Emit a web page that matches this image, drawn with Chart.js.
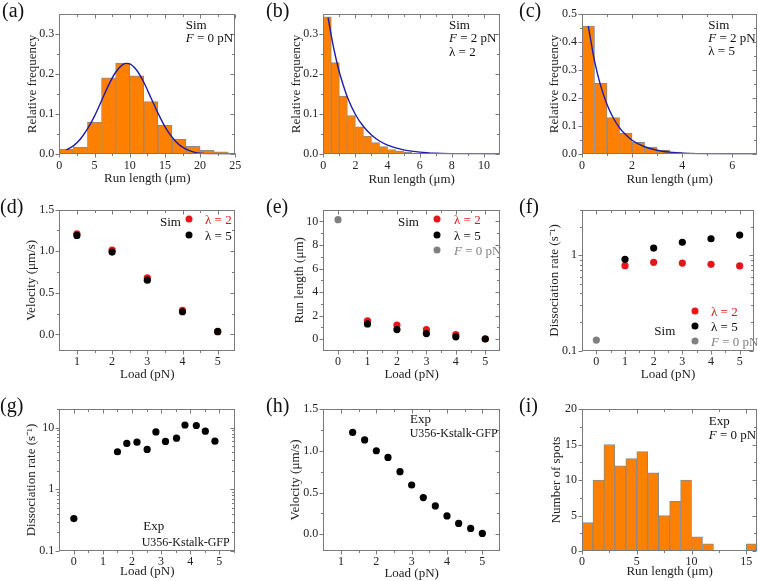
<!DOCTYPE html>
<html><head><meta charset="utf-8">
<script src="https://cdn.jsdelivr.net/npm/chart.js@4"></script>
<style>
body{margin:0;background:#fff;}
#fig{position:relative;width:758px;height:581px;overflow:hidden;background:#fff;font-family:'Liberation Serif','Times New Roman',serif;color:#111;}
.cell{position:absolute;}
.cell canvas{display:block;}
.lbl{position:absolute;font-size:20px;line-height:20px;white-space:nowrap;}
.ann{position:absolute;font-size:13px;line-height:13px;white-space:nowrap;transform:translateY(-50%);}
.ann.sm{font-size:12px;}
.dot{position:absolute;width:7px;height:7px;border-radius:50%;transform:translate(-50%,-50%);}
</style></head><body><div id="fig"></div>
<script>
// ---------- DATA ----------
// (a) Sim, F = 0 pN
const binsA = [1,3,5,7,9,11,13,15,17,19,21,23,25];
const freqA = [0.013,0.018,0.080,0.190,0.227,0.195,0.131,0.072,0.038,0.020,0.010,0.006,0.003];
const fitAx = [1,2,3,4,5,6,7,8,9,9.6,10,11,12,13,14,15,16,17,18,19,20,21,22,23,25];
const fitAy = [0.011,0.021,0.038,0.063,0.095,0.133,0.172,0.204,0.223,0.226,0.225,0.209,0.179,0.141,0.103,0.069,0.043,0.024,0.013,0.006,0.0027,0.0011,0.0004,0.0001,0];
// (b) Sim, F = 2 pN, λ = 2
const binsB = [0.25,0.75,1.25,1.75,2.25,2.75,3.25,3.75,4.25,4.75,5.25,5.75,6.25,6.75,7.25,7.75,8.25,8.75,9.25,9.75,10.25,10.75];
const freqB = [0.342,0.228,0.145,0.096,0.068,0.045,0.029,0.019,0.012,0.008,0.005,0.003,0.002,0.0015,0.001,0.0007,0.0005,0.0003,0.0002,0.0001,0.0001,0.0001];
const fitBx = [0.3,0.5,0.75,1,1.25,1.5,2,2.5,3,3.5,4,5,6,7,8,9,10,11];
const fitBy = [0.340,0.294,0.245,0.204,0.171,0.142,0.099,0.069,0.048,0.033,0.023,0.011,0.0055,0.0026,0.0013,0.0006,0.0003,0.00015];
// (c) Sim, F = 2 pN, λ = 5
const binsC = [0.25,0.75,1.25,1.75,2.25,2.75,3.25,3.75,4.25,4.75,5.25,5.75,6.25,6.75];
const freqC = [0.455,0.252,0.130,0.0745,0.0426,0.026,0.015,0.008,0.005,0.003,0.002,0.001,0.0005,0.0003];
const fitCx = [0.25,0.5,0.75,1,1.25,1.5,1.75,2,2.5,3,3.5,4,5,6,7];
const fitCy = [0.455,0.332,0.242,0.177,0.129,0.094,0.069,0.050,0.0268,0.0142,0.0076,0.0040,0.0011,0.0003,0.0001];
// (d) velocity vs load
const loadD = [1,2,3,4,5];
const velL2 = [1.21,1.015,0.68,0.288,0.03];
const velL5 = [1.19,0.99,0.652,0.272,0.035];
// (e) run length vs load
const loadE = [1,2,3,4,5];
const runL2 = [1.55,1.21,0.82,0.40,0.03];
const runL5 = [1.30,0.82,0.48,0.20,0.02];
const loadE0 = [0];
const runF0 = [10.15];
// (f) dissociation rate vs load
const loadF = [1,2,3,4,5];
const rateL2 = [0.78,0.845,0.83,0.805,0.775];
const rateL5 = [0.908,1.19,1.37,1.49,1.63];
const loadF0 = [0];
const rateF0 = [0.13];
// (g) Exp dissociation rate
const loadG = [0,1.5,1.82,2.17,2.52,2.82,3.15,3.53,3.82,4.21,4.52,4.85];
const rateG = [0.335,4.06,5.53,5.81,4.43,8.51,5.96,6.74,11.0,10.8,8.73,6.03];
// (h) Exp velocity
const loadH = [1.33,1.67,2.0,2.33,2.67,3.0,3.33,3.67,4.0,4.33,4.67,5.0];
const velH = [1.22,1.13,1.0,0.92,0.75,0.59,0.44,0.34,0.22,0.13,0.07,0.01];
// (i) Exp histogram
const binsI = [0.5,1.5,2.5,3.5,4.5,5.5,6.5,7.5,8.5,9.5,10.5,11.5,12.5,13.5,14.5,15.5];
const countI = [4,10,15,12,13,14,11,5,7,10,2,1,0,0,0,1];
// tick values
const ticksAx = [0,5,10,15,20,25];
const ticksAy = [0,0.1,0.2,0.3];
const ticksBx = [0,2,4,6,8,10];
const ticksBy = [0,0.1,0.2,0.3];
const ticksCx = [0,2,4,6];
const ticksCy = [0,0.1,0.2,0.3,0.4,0.5];
const ticksLoad15 = [1,2,3,4,5];
const ticksLoad05 = [0,1,2,3,4,5];
const ticksVel = [0,0.5,1.0,1.5];
const ticksRun = [0,2,4,6,8,10];
const ticksRateF = [0.1,1];
const ticksRateG = [0.1,1,10];
const ticksIx = [0,5,10,15];
const ticksIy = [0,5,10,15,20];

// ---------- STYLE ----------
const FONT = "'Liberation Serif','Times New Roman',serif";
const ORANGE = '#ff8000', BAR_EDGE = '#8a8a8a', BLUE = '#1c1ca8';
const RED = '#e8141a', BLACK = '#000000', GRAY = '#808080', AXIS = '#7a7a7a';
const f1 = v => Number(v).toFixed(1);
const f0 = v => String(v);
const flog = v => (v < 1 ? Number(v).toFixed(1) : String(Math.round(v)));
const zip = (xs, ys) => xs.map((x, i) => ({x, y: ys[i]}));

const framePlugin = {
  id: 'frame',
  afterDraw(chart) {
    const {ctx, chartArea: a} = chart;
    const sx = chart.scales.x, sy = chart.scales.y;
    const L = Math.round(a.left) + 0.5, R = Math.round(a.right) - 0.5;
    const T = Math.round(a.top) + 0.5, B = Math.round(a.bottom) - 0.5;
    ctx.save();
    ctx.strokeStyle = AXIS; ctx.lineWidth = 1;
    ctx.strokeRect(L, T, R - L, B - T);
    const sets = (s) => {
      const maj = s.ticks.map(t => t.value);
      const min = [];
      if (s.type === 'logarithmic') {
        let d = Math.pow(10, Math.floor(Math.log10(s.min)));
        while (d <= s.max) {
          for (let k = 2; k <= 9; k++) { const v = k * d; if (v > s.min && v <= s.max + 1e-9) min.push(v); }
          d *= 10;
        }
      } else {
        const st = maj[1] - maj[0];
        for (let i = -1; i < maj.length; i++) {
          const v = (i < 0 ? maj[0] - st / 2 : maj[i] + st / 2);
          if (v > s.min + 1e-9 && v < s.max - 1e-9) min.push(v);
        }
      }
      return {maj, min};
    };
    const X = sets(sx), Y = sets(sy);
    ctx.beginPath();
    const xt = (vals, len) => vals.forEach(v => {
      const px = Math.round(sx.getPixelForValue(v)) + 0.5;
      ctx.moveTo(px, B); ctx.lineTo(px, B + len);
      ctx.moveTo(px, T); ctx.lineTo(px, T + len);
    });
    const yt = (vals, len) => vals.forEach(v => {
      const py = Math.round(sy.getPixelForValue(v)) + 0.5;
      ctx.moveTo(L, py); ctx.lineTo(L - len, py);
      ctx.moveTo(R, py); ctx.lineTo(R - len, py);
    });
    xt(X.maj, 4); xt(X.min, 2.5); yt(Y.maj, 4); yt(Y.min, 2.5);
    ctx.stroke();
    ctx.restore();
  }
};

function axis(o, isX, p) {
  return {
    type: o.type || 'linear',
    min: o.min, max: o.max, offset: false,
    grid: {display: false, drawTicks: false, tickLength: 0},
    border: {display: false},
    afterBuildTicks: s => { s.ticks = o.ticks.map(v => ({value: v})); },
    afterFit: s => { if (isX) s.height = p.h - p.B; else s.width = p.L; },
    ticks: {autoSkip: false, maxRotation: 0, minRotation: 0, padding: isX ? 4 : 5,
      color: '#222', font: {family: FONT, size: 12}, callback: o.fmt},
    title: {display: true, text: o.title, color: '#222', font: {family: FONT, size: 13},
      padding: isX ? {top: 0, bottom: p.xd - 7.8} : {top: p.yc - 7.8, bottom: 0}}
  };
}

function build(p, type, datasets, xo, yo) {
  const cell = document.createElement('div');
  cell.className = 'cell';
  cell.style.left = p.x + 'px'; cell.style.top = p.y + 'px';
  const cv = document.createElement('canvas');
  cv.width = p.w; cv.height = p.h;
  cv.style.width = p.w + 'px'; cv.style.height = p.h + 'px';
  cell.appendChild(cv);
  document.getElementById('fig').appendChild(cell);
  new Chart(cv, {
    type, data: {datasets},
    options: {
      responsive: false, animation: false, devicePixelRatio: 1,
      layout: {padding: {left: 0, top: p.T, right: p.w - p.R, bottom: 0}},
      plugins: {legend: {display: false}, tooltip: {enabled: false}},
      scales: {x: axis(xo, true, p), y: axis(yo, false, p)}
    },
    plugins: [framePlugin]
  });
}

function hist(p, bins, vals, fx, fy, xo, yo) {
  const ds = [];
  if (fx) ds.push({type: 'line', data: zip(fx, fy), borderColor: BLUE, borderWidth: 1.4,
    pointRadius: 0, cubicInterpolationMode: 'monotone', fill: false, order: 0});
  ds.push({type: 'bar', data: zip(bins, vals), backgroundColor: ORANGE, borderColor: BAR_EDGE,
    borderWidth: 1, barPercentage: 1, categoryPercentage: 1, order: 1});
  build(p, 'bar', ds, xo, yo);
}
function pts(xs, ys, color, order) {
  return {data: zip(xs, ys), pointRadius: 3.6, pointBackgroundColor: color, pointBorderWidth: 0,
    borderColor: color, showLine: false, order};
}

// ---------- LAYOUT ----------
const C0 = {x: 0, w: 253, L: 59.3, R: 235.3}, C1 = {x: 253, w: 253, L: 70.3, R: 247}, C2 = {x: 506, w: 252, L: 76, R: 251.3};
const R0 = {y: 0, h: 195, T: 13.5, B: 154.3}, R1 = {y: 195, h: 195, T: 14.7, B: 156}, R2 = {y: 390, h: 191, T: 19, B: 161};
const P = (c, r, yc, xd) => Object.assign({}, c, r, {yc, xd});

const RL = 'Run length (μm)', RF = 'Relative frequency', LD = 'Load (pN)', VL = 'Velocity (μm/s)', DR = 'Dissociation rate (s⁻¹)';

hist(P(C0, R0, 32.3, 16), binsA, freqA, fitAx, fitAy,
  {min: 0, max: 25, ticks: ticksAx, fmt: f0, title: RL},
  {min: 0, max: 0.35, ticks: ticksAy, fmt: f1, title: RF});
hist(P(C1, R0, 43.7, 15), binsB, freqB, fitBx, fitBy,
  {min: 0, max: 11, ticks: ticksBx, fmt: f0, title: RL},
  {min: 0, max: 0.35, ticks: ticksBy, fmt: f1, title: RF});
hist(P(C2, R0, 48.7, 15), binsC, freqC, fitCx, fitCy,
  {min: 0, max: 7, ticks: ticksCx, fmt: f0, title: RL},
  {min: 0, max: 0.5, ticks: ticksCy, fmt: f1, title: RF});

build(P(C0, R1, 31.7, 15), 'scatter', [pts(loadD, velL5, BLACK, 0), pts(loadD, velL2, RED, 1)],
  {min: 0.5, max: 5.5, ticks: ticksLoad15, fmt: f0, title: LD},
  {min: -0.2, max: 1.5, ticks: ticksVel, fmt: f1, title: VL});
build(P(C1, R1, 46.3, 15), 'scatter', [pts(loadE, runL5, BLACK, 0), pts(loadE, runL2, RED, 1), pts(loadE0, runF0, GRAY, 2)],
  {min: -0.5, max: 5.5, ticks: ticksLoad05, fmt: f0, title: LD},
  {min: -1, max: 11, ticks: ticksRun, fmt: f0, title: RL});
build(P(C2, R1, 48.3, 15), 'scatter', [pts(loadF, rateL5, BLACK, 0), pts(loadF, rateL2, RED, 1), pts(loadF0, rateF0, GRAY, 2)],
  {min: -0.5, max: 5.5, ticks: ticksLoad05, fmt: f0, title: LD},
  {type: 'logarithmic', min: 0.1, max: 3, ticks: ticksRateF, fmt: flog, title: DR});

build(P(C0, R2, 32, 9.3), 'scatter', [pts(loadG, rateG, BLACK, 0)],
  {min: -0.5, max: 5.55, ticks: ticksLoad05, fmt: f0, title: LD},
  {type: 'logarithmic', min: 0.1, max: 20, ticks: ticksRateG, fmt: flog, title: DR});
build(P(C1, R2, 42.3, 7.7), 'scatter', [pts(loadH, velH, BLACK, 0)],
  {min: 0.5, max: 5.5, ticks: ticksLoad15, fmt: f0, title: LD},
  {min: -0.2, max: 1.5, ticks: ticksVel, fmt: f1, title: VL});
hist(P(C2, R2, 50.7, 9.3), binsI, countI, null, null,
  {min: 0, max: 16, ticks: ticksIx, fmt: f0, title: RL},
  {min: 0, max: 20, ticks: ticksIy, fmt: f0, title: 'Number of spots'});

// ---------- TEXT ----------
const fig = document.getElementById('fig');
const labels = [['(a)', 2, 0], ['(b)', 266, 0], ['(c)', 519, 0], ['(d)', 0, 196], ['(e)', 266, 196], ['(f)', 519, 196], ['(g)', 0, 395], ['(h)', 266, 395], ['(i)', 519, 395]];
labels.forEach(([t, x, y]) => { const d = document.createElement('div'); d.className = 'lbl'; d.textContent = t; d.style.left = x + 'px'; d.style.top = y + 'px'; fig.appendChild(d); });
const F0 = '<i>F</i> = 0 pN', F2 = '<i>F</i> = 2 pN';
const anns = [
  [185.7, 24.3, 'Sim'], [185.7, 37.3, F0],
  [449, 24, 'Sim'], [449, 37.3, F2], [449, 50.7, 'λ = 2'],
  [708.3, 24, 'Sim'], [708.3, 37, F2], [708.3, 50, 'λ = 5'],
  [160, 221, 'Sim'], [205, 219, 'λ = 2', RED], [205, 235, 'λ = 5'],
  [398, 221, 'Sim'], [454, 219, 'λ = 2', RED], [454, 235, 'λ = 5'], [454, 250, F0, GRAY],
  [711, 310.7, 'λ = 2', RED], [711, 325.7, 'λ = 5'], [654.3, 330, 'Sim'], [711, 341, F0, GRAY],
  [143.3, 525, 'Exp'], [141.7, 541.7, 'U356-Kstalk-GFP', null, 1],
  [410, 418.3, 'Exp'], [409.7, 432.7, 'U356-Kstalk-GFP', null, 1],
  [708.7, 420, 'Exp'], [708.7, 434.3, F0]
];
anns.forEach(([x, y, h, c, sm]) => { const d = document.createElement('div'); d.className = sm ? 'ann sm' : 'ann'; d.innerHTML = h; d.style.left = x + 'px'; d.style.top = y + 'px'; if (c) d.style.color = c; fig.appendChild(d); });
const dots = [[189, 219, RED], [189, 235, BLACK], [437.3, 219, RED], [437.3, 235, BLACK], [437.3, 250, GRAY], [695, 310.7, RED], [695, 325.7, BLACK], [695, 341, GRAY]];
dots.forEach(([x, y, c]) => { const d = document.createElement('div'); d.className = 'dot'; d.style.left = x + 'px'; d.style.top = y + 'px'; d.style.background = c; fig.appendChild(d); });
</script></body></html>
